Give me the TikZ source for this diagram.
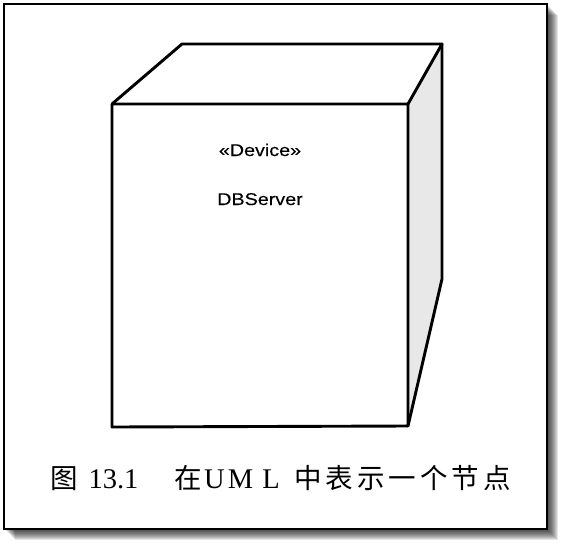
\documentclass[tikz,border=0pt]{standalone}
\usepackage{fontspec}
\setmainfont{Liberation Serif}
\newfontfamily\cjk{Noto Sans CJK SC}
\newfontfamily\umlfont[FakeStretch=1.16,FakeBold=0.12]{Liberation Sans}
\begin{document}
\begin{tikzpicture}[x=1pt,y=-1pt,
  edge/.style={line width=2.9pt, line join=round, line cap=round},
  framebox/.style={draw=black, line width=2.2pt, fill=white},
  sideface/.style={fill=black!9},
  umltext/.style={font=\umlfont\fontsize{17}{19}\selectfont, inner sep=0pt, anchor=base},
  captxt/.style={font=\fontsize{28.5}{30}\selectfont, inner sep=0pt, anchor=base},
  capcjk/.style={font=\cjk\fontsize{27.5}{30}\selectfont, inner sep=0pt, anchor=base}]
\useasboundingbox (0,0) rectangle (568,550);
% drop shadow
\foreach \d in {2,...,11}
  \fill[black,opacity=0.1] (4+\d,4+\d) rectangle (547+\d,529+\d);
% frame
\draw[framebox] (4,4) rectangle (547,529);
% cube corners
\coordinate (ftl) at (112,104);
\coordinate (ftr) at (408,104);
\coordinate (fbr) at (408,426);
\coordinate (fbl) at (112,427);
\coordinate (btl) at (182,44);
\coordinate (btr) at (442,44);
\coordinate (bbr) at (442,279);
% shaded right face
\fill[sideface] (ftr) -- (btr) -- (bbr) -- (fbr) -- cycle;
% edges
\draw[edge] (ftl) -- (ftr) -- (fbr) -- (fbl) -- cycle;
\draw[edge] (ftl) -- (btl) -- (btr) -- (ftr);
\draw[edge] (btr) -- (bbr) -- (fbr);
% labels
\node[umltext] (stereo) at (260,156) {«Device»};
\node[umltext] (nodename) at (260,205) {DBServer};
% caption
\node[capcjk] (tu) at (64,488) {图};
\node[captxt] (num) at (113.5,488) {13.1};
\node[capcjk] (zai) at (188.5,488) {在};
\node[captxt] (u) at (214.5,488) {U};
\node[captxt] (m) at (240.5,488) {M};
\node[captxt] (l) at (271,488) {L};
\foreach \c [count=\i from 0] in {中,表,示,一,个,节,点}
  \node[capcjk] (cap\i) at (308+31.5*\i,488) {\c};
\end{tikzpicture}
\end{document}
